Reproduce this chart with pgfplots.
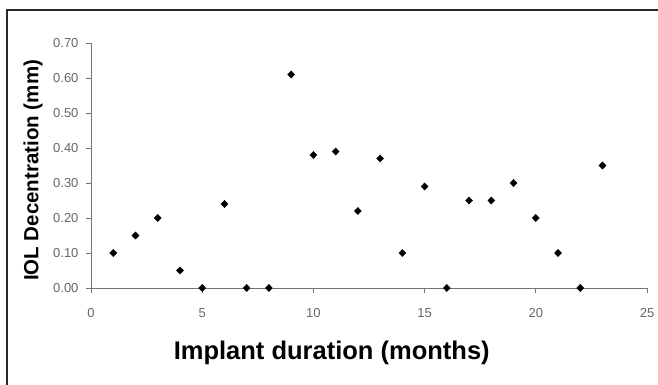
\documentclass[border=0pt]{standalone}
\usepackage{pgfplots}
\pgfplotsset{compat=1.18}
\usepackage{fontspec}
\setmainfont{Liberation Sans}
\begin{document}
\begin{tikzpicture}[x=1pt,y=1pt]
\path[use as bounding box] (0,0) rectangle (658,385);
\draw[line width=1.3pt, black!85] (7,-5) -- (7,375) -- (665,375);
\begin{axis}[
  at={(91pt,97pt)}, anchor=south west,
  scale only axis, width=556pt, height=245pt,
  xmin=0, xmax=25, ymin=0, ymax=0.7,
  axis x line=bottom, axis y line=left,
  axis line style={-, black!55, line width=0.9pt},
  xtick={0,5,...,25},
  ytick={0,0.1,...,0.7},
  tick style={black!55, line width=0.9pt},
  tick align=outside, major tick length=5pt,
  /pgf/number format/assume math mode=true,
  xticklabel style={font=\fontsize{13}{15}\selectfont, text=black!60, yshift=-12pt},
  yticklabel style={font=\fontsize{13}{15}\selectfont, text=black!60, xshift=-4pt, /pgf/number format/.cd, fixed, fixed zerofill, precision=2},
  xlabel={Implant duration (months)},
  ylabel={IOL Decentration (mm)},
  xlabel style={font=\bfseries\fontsize{25.5}{28}\selectfont, at={(axis description cs:0.433,-0.265)}, anchor=center},
  ylabel style={font=\bfseries\fontsize{20.5}{23}\selectfont, at={(axis description cs:-0.104,0.48)}, anchor=center},
  clip=false,
]
\addplot[only marks, mark=diamond*, mark size=3.6pt, black, mark options={xscale=1.3}] coordinates {
(1,0.10) (2,0.15) (3,0.20) (4,0.05) (5,0.00) (6,0.24) (7,0.00) (8,0.00)
(9,0.61) (10,0.38) (11,0.39) (12,0.22) (13,0.37) (14,0.10) (15,0.29)
(16,0.00) (17,0.25) (18,0.25) (19,0.30) (20,0.20) (21,0.10) (22,0.00) (23,0.35)
};
\end{axis}
\end{tikzpicture}
\end{document}
